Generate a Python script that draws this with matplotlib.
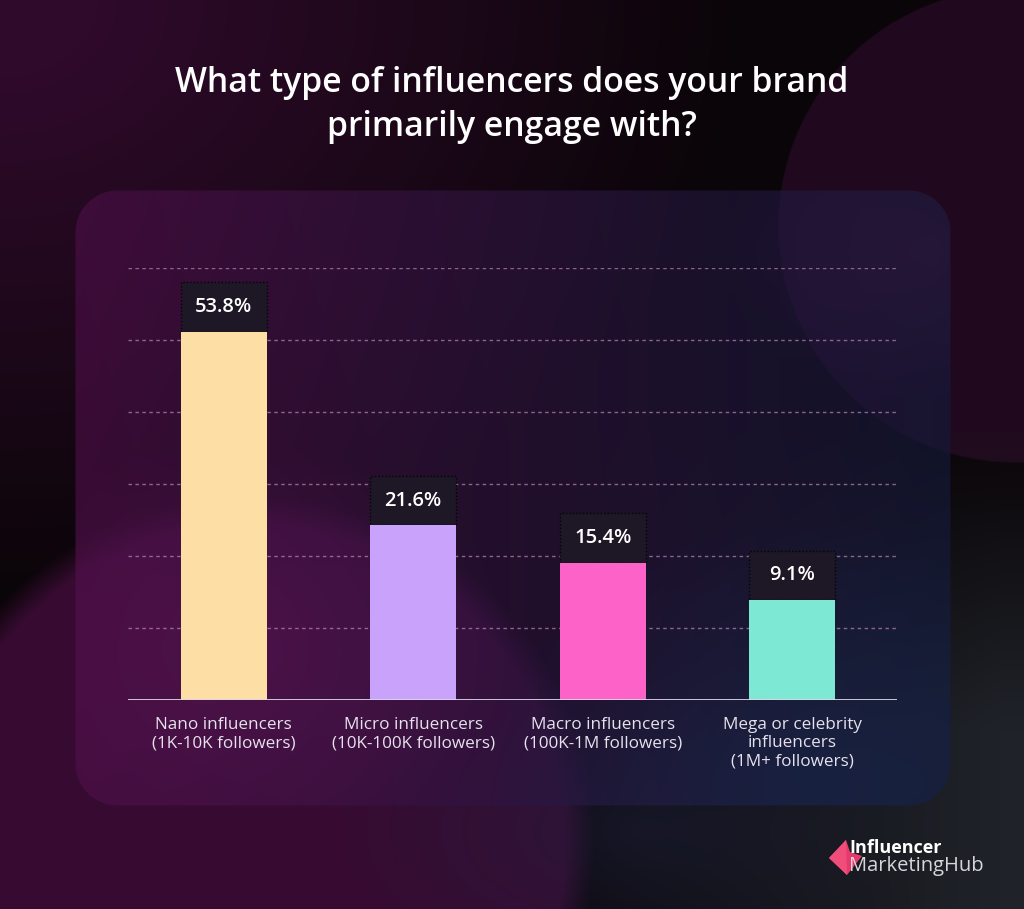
import numpy as np
import matplotlib
matplotlib.use("Agg")
import matplotlib.pyplot as plt
from matplotlib.patches import Rectangle, Polygon
import matplotlib.transforms as mtransforms

# ---------------- data ----------------
title = "What type of influencers does your brand\nprimarily engage with?"
categories = ["Nano influencers\n(1K-10K followers)",
              "Micro influencers\n(10K-100K followers)",
              "Macro influencers\n(100K-1M followers)",
              "Mega or celebrity\ninfluencers\n(1M+ followers)"]
values = [53.8, 21.6, 15.4, 9.1]
value_labels = ["53.8%", "21.6%", "15.4%", "9.1%"]
bar_colors = ["#fddea5", "#c9a2fb", "#fd62c9", "#7de9d4"]

FONT = ["Open Sans", "DejaVu Sans"]
W, H = 1024, 909
fig = plt.figure(figsize=(W / 100, H / 100), dpi=100)

# ---------------- background (pure styling) ----------------
yy, xx = np.mgrid[0:H, 0:W].astype(float)


def rgb(h):
    return np.array([int(h[i:i + 2], 16) / 255 for i in (1, 3, 5)])


def blend(img, mask, color):
    m = np.clip(mask, 0, 1)[..., None]
    return img * (1 - m) + rgb(color) * m


img = np.zeros((H, W, 3)) + rgb("#0a0508")
img = blend(img, np.clip(1.15 - np.hypot(xx / 650, yy / 520), 0, 1), "#2f0a2b")
d = np.hypot(xx - 1015, yy - 225)
img = blend(img, np.clip((238 - d) / 2, 0, 1) * 0.7, "#2a0c28")
img = blend(img, np.clip((xx - 550) / 450, 0, 1) * np.clip((yy - 430) / 300, 0, 1), "#1f2329")
d = np.hypot(xx - 250, yy - 840)
img = blend(img, np.clip((345 - d) / 30, 0, 1) * 0.85, "#3f0c39")
img = blend(img, np.clip(1 - np.hypot((xx - 640) / 300, (yy - 830) / 160), 0, 1) * 0.5, "#1e2340")

# panel (rounded rectangle)
x0, x1, y0, y1, r = 75, 950, 190, 805, 42
dx = np.maximum(np.maximum(x0 + r - xx, xx - (x1 - r)), 0)
dy = np.maximum(np.maximum(y0 + r - yy, yy - (y1 - r)), 0)
pmask = np.clip(r - np.hypot(dx, dy) + 0.5, 0, 1)
t = np.clip((xx - x0) / (x1 - x0), 0, 1) ** 0.9
tint = rgb("#4c0e46")[None, None, :] * (1 - t[..., None]) + rgb("#141a3a")[None, None, :] * t[..., None]
panel = img * 0.35 + tint * 0.65
glow = np.clip(1 - np.hypot((xx - 230) / 280, (yy - 650) / 210), 0, 1) * 0.5
panel = blend(panel, glow, "#5c1656")
glow2 = np.clip(1 - np.hypot((xx - 820) / 330, (yy - 780) / 260), 0, 1) * 0.55
panel = blend(panel, glow2, "#17284c")
glow3 = np.clip(1 - np.hypot((xx - 920) / 200, (yy - 250) / 150), 0, 1) * 0.35
panel = blend(panel, glow3, "#3a1a45")
img = img * (1 - pmask[..., None]) + panel * pmask[..., None]

ax_bg = fig.add_axes([0, 0, 1, 1])
ax_bg.imshow(img, extent=(0, W, H, 0), aspect="auto", interpolation="bilinear")
ax_bg.set_xlim(0, W)
ax_bg.set_ylim(H, 0)
ax_bg.axis("off")

# ---------------- title ----------------
fig.text(0.5, 1 - 105 / H, title, ha="center", va="center", color="white",
         fontsize=24.3, fontweight="semibold", family=FONT, linespacing=1.38)

# ---------------- chart ----------------
base_px, top_px, left_px, right_px = 700, 268, 128, 897
ax = fig.add_axes([left_px / W, (H - base_px) / H, (right_px - left_px) / W,
                   (base_px - top_px) / H])
ax.set_facecolor("none")
YMIN, YMAX = -7.5, 64.5
ax.set_ylim(YMIN, YMAX)
ax.set_xlim(-0.505, 3.553)
x = np.arange(len(values))
bw = 0.454
vals = np.array(values)
ax.bar(x, vals - YMIN, bottom=YMIN, width=bw, color=bar_colors, zorder=3)

for k in range(1, 7):
    ax.axhline(YMIN + 12 * k, color="#b98ab5", lw=1.0, ls=(0, (2.5, 2.5)), alpha=0.7, zorder=1)
ax.axhline(YMIN, color="#ddd6e6", lw=2.0, zorder=4)

box_h = 8.3
for xi, v, lab in zip(x, values, value_labels):
    ax.add_patch(Rectangle((xi - bw / 2, v), bw, box_h, facecolor="#1e1726",
                           edgecolor="#050505", lw=1.0, ls=(0, (1, 1.5)), zorder=2))
    ax.text(xi, v + box_h / 2, lab, ha="center", va="center", color="white",
            fontsize=14.5, fontweight="semibold", family=FONT, zorder=5)

trans = mtransforms.blended_transform_factory(ax.transData, ax.transAxes)
for xi, c in zip(x, categories):
    ax.text(xi, -17 / (base_px - top_px), c, transform=trans, ha="center", va="top",
            color="#e6e1ec", fontsize=12.3, family=FONT, linespacing=1.2)

for s in ax.spines.values():
    s.set_visible(False)
ax.set_xticks([])
ax.set_yticks([])

# ---------------- logo ----------------
ax_bg.add_patch(Polygon([(829, 858), (846, 840), (850, 852), (862, 856), (847, 875)],
                        closed=True, facecolor="#e63a6c", edgecolor="none"))
ax_bg.add_patch(Polygon([(829, 858), (846, 840), (847, 875)],
                        closed=True, facecolor="#f04d7b", edgecolor="none"))
ax_bg.text(849, 848, "Influencer", ha="left", va="center", color="white",
           fontsize=13, fontweight="bold", family=FONT)
ax_bg.text(849, 866, "MarketingHub", ha="left", va="center", color="#d6d6da",
           fontsize=14.5, family=FONT)

fig.savefig("out.png", dpi=100)
